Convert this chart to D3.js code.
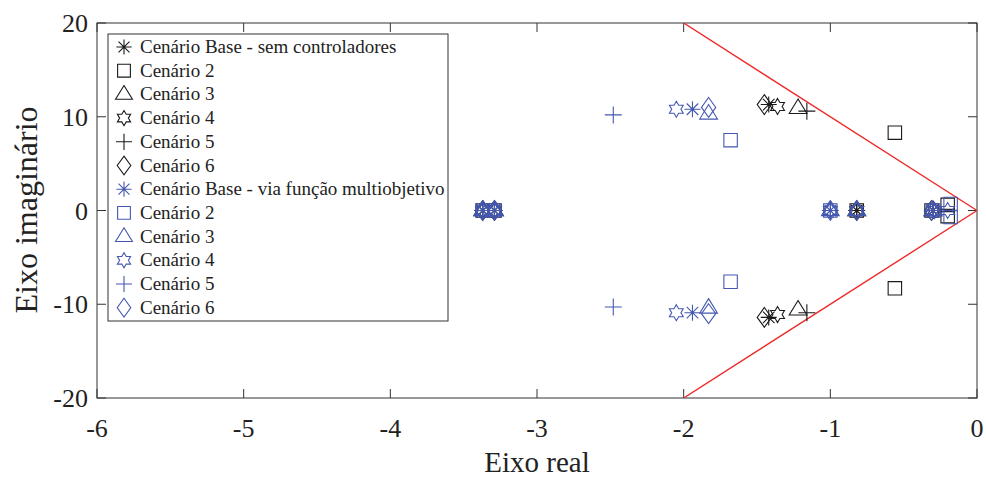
<!DOCTYPE html>
<html>
<head>
<meta charset="utf-8">
<script src="https://cdn.jsdelivr.net/npm/d3@7"></script>
<style>
  body { margin: 0; background: #fff; }
  svg { display: block; }
</style>
</head>
<body>
<svg id="chart" width="986" height="479" font-family="'Liberation Serif', 'DejaVu Serif', serif"></svg>
<script>
// Polos do sistema no plano complexo (parte real, parte imaginária)
const legendLabels = [
  "Cenário Base - sem controladores", "Cenário 2", "Cenário 3", "Cenário 4", "Cenário 5", "Cenário 6",
  "Cenário Base - via função multiobjetivo", "Cenário 2", "Cenário 3", "Cenário 4", "Cenário 5", "Cenário 6"
];
const markerShapes = ["asterisk", "square", "triangle", "hexagram", "plus", "diamond",
                      "asterisk", "square", "triangle", "hexagram", "plus", "diamond"];
const seriesColors = ["#1a1a1a", "#1a1a1a", "#1a1a1a", "#1a1a1a", "#1a1a1a", "#1a1a1a",
                      "#4558b0", "#4558b0", "#4558b0", "#4558b0", "#4558b0", "#4558b0"];

// Sem controladores
const semBaseRe = [-1.42, -1.42, -3.37, -3.29, -0.82, -0.30];
const semBaseIm = [11.3, -11.4, 0, 0, 0, 0];
const sem2Re = [-0.56, -0.56, -3.37, -3.29, -0.82, -0.31, -0.20, -0.20];
const sem2Im = [8.3, -8.3, 0, 0, 0, 0, 0.6, -0.6];
const sem3Re = [-1.22, -1.22, -3.37, -3.29, -0.82, -0.30];
const sem3Im = [10.9, -10.6, 0, 0, 0, 0];
const sem4Re = [-1.36, -1.36, -3.37, -3.29, -0.82, -0.29];
const sem4Im = [11.1, -11.1, 0, 0, 0, 0];
const sem5Re = [-1.16, -1.16, -3.37, -3.29, -0.82, -0.30];
const sem5Im = [10.6, -10.9, 0, 0, 0, 0];
const sem6Re = [-1.45, -1.45, -3.37, -3.29, -0.82, -0.31];
const sem6Im = [11.3, -11.4, 0, 0, 0, 0];

// Via função multiobjetivo
const moBaseRe = [-1.94, -1.94, -3.37, -3.29, -1.00, -0.30];
const moBaseIm = [10.8, -10.9, 0, 0, 0, 0];
const mo2Re = [-1.68, -1.68, -3.37, -3.29, -1.00, -0.30, -0.18, -0.18];
const mo2Im = [7.5, -7.6, 0, 0, 0, 0, 0.7, -0.7];
const mo3Re = [-1.83, -1.83, -3.37, -3.29, -1.00, -0.82, -0.30];
const mo3Im = [10.3, -10.4, 0, 0, 0, 0, 0];
const mo4Re = [-2.05, -2.05, -3.37, -3.29, -1.00, -0.82, -0.29, -0.20];
const mo4Im = [10.8, -10.9, 0, 0, 0, 0, 0, 0];
const mo5Re = [-2.48, -2.48, -3.37, -3.29, -1.00, -0.30];
const mo5Im = [10.2, -10.3, 0, 0, 0, 0];
const mo6Re = [-1.83, -1.83, -3.37, -3.29, -1.00, -0.82, -0.31];
const mo6Im = [11.0, -11.0, 0, 0, 0, 0, 0];

const seriesRe = [semBaseRe, sem2Re, sem3Re, sem4Re, sem5Re, sem6Re, moBaseRe, mo2Re, mo3Re, mo4Re, mo5Re, mo6Re];
const seriesIm = [semBaseIm, sem2Im, sem3Im, sem4Im, sem5Im, sem6Im, moBaseIm, mo2Im, mo3Im, mo4Im, mo5Im, mo6Im];

// Limites de amortecimento (reta em forma de cunha)
const boundaryRe = [-2, 0, -2];
const boundaryIm = [20, 0, -20];

const xTicks = [-6, -5, -4, -3, -2, -1, 0];
const yTicks = [-20, -10, 0, 10, 20];

const svg = d3.select("#chart");
const plotL = 97, plotR = 977, plotT = 23, plotB = 398;
const x = d3.scaleLinear().domain([-6, 0]).range([plotL, plotR]);
const y = d3.scaleLinear().domain([-20, 20]).range([plotB, plotT]);
const textColor = "#222";

// Marcadores
function markerPath(shape, s) {
  const p = d3.path();
  if (shape === "square") {
    const h = s * 0.42;
    p.rect(-h, -h, 2 * h, 2 * h);
  } else if (shape === "triangle") {
    const r = s * 0.55;
    p.moveTo(0, -r);
    p.lineTo(r * 0.95, r * 0.55);
    p.lineTo(-r * 0.95, r * 0.55);
    p.closePath();
  } else if (shape === "diamond") {
    const r = s * 0.55;
    p.moveTo(0, -r); p.lineTo(r * 0.72, 0); p.lineTo(0, r); p.lineTo(-r * 0.72, 0); p.closePath();
  } else if (shape === "hexagram") {
    const R = s * 0.5, ri = R / Math.sqrt(3);
    for (let i = 0; i < 12; i++) {
      const a = -Math.PI / 2 + i * Math.PI / 6;
      const rr = i % 2 === 0 ? R : ri;
      const px = rr * Math.cos(a), py = rr * Math.sin(a);
      if (i === 0) p.moveTo(px, py); else p.lineTo(px, py);
    }
    p.closePath();
  } else if (shape === "plus") {
    const r = s * 0.5;
    p.moveTo(-r, 0); p.lineTo(r, 0); p.moveTo(0, -r); p.lineTo(0, r);
  } else if (shape === "asterisk") {
    const r = s * 0.5, d = r * 0.72;
    p.moveTo(-r, 0); p.lineTo(r, 0); p.moveTo(0, -r); p.lineTo(0, r);
    p.moveTo(-d, -d); p.lineTo(d, d); p.moveTo(-d, d); p.lineTo(d, -d);
  }
  return p.toString();
}
const markerSize = { square: 16, triangle: 17, diamond: 18, hexagram: 16, plus: 17, asterisk: 16 };

// Caixa dos eixos
svg.append("rect").attr("x", plotL).attr("y", plotT).attr("width", plotR - plotL).attr("height", plotB - plotT)
  .attr("fill", "#fff").attr("stroke", "#333").attr("stroke-width", 1);

// Marcas dos eixos (para dentro, espelhadas)
const tickLen = 9;
const axisG = svg.append("g").attr("stroke", "#333").attr("stroke-width", 1);
xTicks.forEach(t => {
  axisG.append("line").attr("x1", x(t)).attr("x2", x(t)).attr("y1", plotB).attr("y2", plotB - tickLen);
  axisG.append("line").attr("x1", x(t)).attr("x2", x(t)).attr("y1", plotT).attr("y2", plotT + tickLen);
});
yTicks.forEach(t => {
  axisG.append("line").attr("x1", plotL).attr("x2", plotL + tickLen).attr("y1", y(t)).attr("y2", y(t));
  axisG.append("line").attr("x1", plotR).attr("x2", plotR - tickLen).attr("y1", y(t)).attr("y2", y(t));
});

svg.append("g").selectAll("text").data(xTicks).join("text")
  .attr("x", d => x(d)).attr("y", 437).attr("text-anchor", "middle")
  .attr("font-size", 26).attr("fill", textColor).text(d => d);
svg.append("g").selectAll("text").data(yTicks).join("text")
  .attr("x", 88).attr("y", d => y(d) + 9).attr("text-anchor", "end")
  .attr("font-size", 26).attr("fill", textColor).text(d => d);

svg.append("text").attr("x", 537).attr("y", 472).attr("text-anchor", "middle")
  .attr("font-size", 29).attr("fill", textColor).text("Eixo real");
svg.append("text").attr("transform", "translate(37,210) rotate(-90)").attr("text-anchor", "middle")
  .attr("font-size", 32).attr("fill", textColor).text("Eixo imaginário");

// Área de plotagem recortada
svg.append("clipPath").attr("id", "plotClip").append("rect")
  .attr("x", plotL).attr("y", plotT).attr("width", plotR - plotL).attr("height", plotB - plotT);
const plot = svg.append("g").attr("clip-path", "url(#plotClip)");

plot.append("path")
  .datum(boundaryRe.map((v, i) => [v, boundaryIm[i]]))
  .attr("d", d3.line().x(d => x(d[0])).y(d => y(d[1])))
  .attr("fill", "none").attr("stroke", "#ee2a2a").attr("stroke-width", 1.4);

seriesRe.forEach((re, k) => {
  const pts = re.map((v, i) => [v, seriesIm[k][i]]);
  plot.append("g").selectAll("path").data(pts).join("path")
    .attr("transform", d => `translate(${x(d[0])},${y(d[1])})`)
    .attr("d", markerPath(markerShapes[k], markerSize[markerShapes[k]]))
    .attr("fill", "none").attr("stroke", seriesColors[k]).attr("stroke-width", 1.1);
});

// Legenda
const lgX = 108, lgY = 34, lgW = 340, lgH = 287;
const lg = svg.append("g");
lg.append("rect").attr("x", lgX).attr("y", lgY).attr("width", lgW).attr("height", lgH)
  .attr("fill", "#fff").attr("stroke", "#333").attr("stroke-width", 1);
legendLabels.forEach((lab, i) => {
  const cy = lgY + 13 + i * 23.7;
  lg.append("path").attr("transform", `translate(${lgX + 16},${cy})`)
    .attr("d", markerPath(markerShapes[i], markerSize[markerShapes[i]] * 0.95))
    .attr("fill", "none").attr("stroke", seriesColors[i]).attr("stroke-width", 1.1);
  lg.append("text").attr("x", lgX + 32).attr("y", cy + 6).attr("font-size", 19)
    .attr("fill", textColor).text(lab);
});
</script>
</body>
</html>
